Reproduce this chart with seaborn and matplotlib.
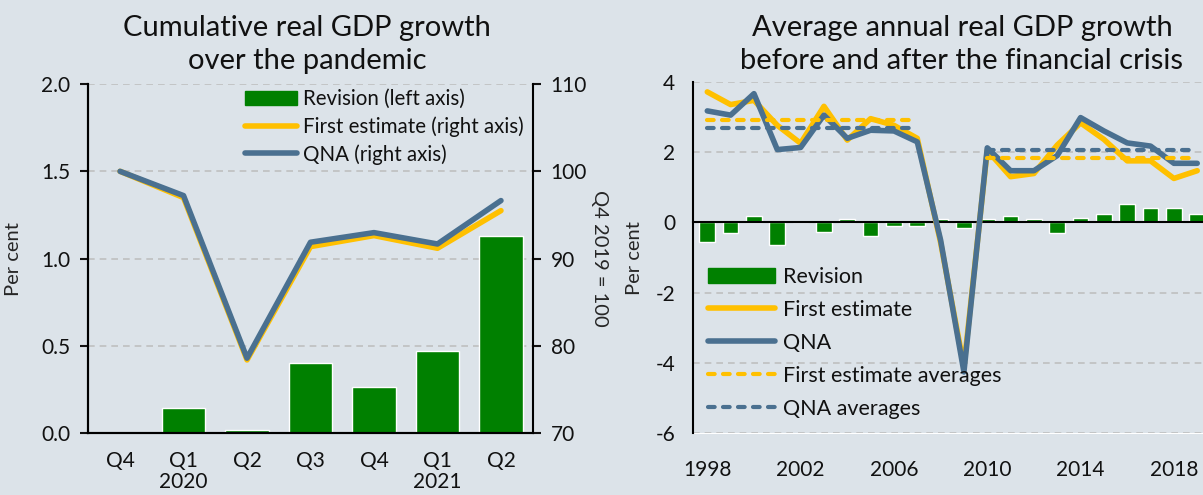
import numpy as np
import pandas as pd
import seaborn as sns
import matplotlib.pyplot as plt
from matplotlib.lines import Line2D
from matplotlib.patches import Patch

# DATA
# left panel: cumulative growth over the pandemic (quarters Q4 2019 .. Q2 2021)
quarter_labels = ['Q4', 'Q1\n2020', 'Q2', 'Q3', 'Q4', 'Q1\n2021', 'Q2']
revision_q = [0.0, 0.143, 0.019, 0.404, 0.267, 0.471, 1.131]
first_q = [100.0, 96.99, 78.4, 91.38, 92.64, 91.19, 95.5]
qna_q = [100.0, 97.22, 78.6, 91.88, 92.98, 91.68, 96.65]

# right panel: annual growth 1998-2019
years = list(range(1998, 2020))
revision_y = [-0.55, -0.31, 0.19, -0.65, 0.0, -0.27, 0.09, -0.38, -0.10, -0.10, 0.09,
              -0.15, 0.09, 0.19, 0.09, -0.31, 0.13, 0.24, 0.52, 0.41, 0.41, 0.24]
first_y = [3.71, 3.35, 3.47, 2.76, 2.25, 3.30, 2.34, 2.95, 2.76, 2.39, -0.57,
           -4.10, 2.05, 1.30, 1.39, 2.20, 2.83, 2.36, 1.75, 1.75, 1.25, 1.47]
qna_y = [3.17, 3.05, 3.66, 2.07, 2.13, 3.05, 2.39, 2.62, 2.60, 2.29, -0.50,
         -4.25, 2.12, 1.47, 1.47, 1.90, 2.98, 2.60, 2.26, 2.17, 1.68, 1.68]
avg_periods = [(1998, 2007), (2010, 2019)]
first_avg = [2.90, 1.84]
qna_avg = [2.67, 2.05]
year_ticks = [1998, 2002, 2006, 2010, 2014, 2018]

# STYLE
bg = '#DCE3E9'
green = '#008000'
yellow = '#FFC000'
blue = '#4A7090'
grid_col = '#BFBFBF'

sns.set_style('white')
plt.rcParams['font.family'] = ['Lato', 'DejaVu Sans']
plt.rcParams['axes.unicode_minus'] = False
plt.rcParams['text.color'] = '#111111'
plt.rcParams['xtick.color'] = '#111111'
plt.rcParams['ytick.color'] = '#111111'

W, H = 1203, 495
fig = plt.figure(figsize=(W / 100, H / 100), dpi=100, facecolor=bg)

def px_box(left, top, right, bottom):
    return [left / W, 1 - bottom / H, (right - left) / W, (bottom - top) / H]

# ---------- left panel ----------
ax = fig.add_axes(px_box(88.3, 84, 532.7, 433.3))
ax.set_facecolor(bg)
df_q = pd.DataFrame({'pos': range(len(quarter_labels)), 'rev': revision_q})
sns.barplot(data=df_q, x='pos', y='rev', color=green, saturation=1, width=0.68,
            ax=ax, zorder=2)
ax.set_ylim(0, 2.0)
ax.set_yticks([0, 0.5, 1.0, 1.5, 2.0])
ax.set_yticklabels(['0.0', '0.5', '1.0', '1.5', '2.0'])
for v in [0.5, 1.0, 1.5, 2.0]:
    ax.axhline(v, color=grid_col, lw=1.2, ls=(0, (4, 3)), zorder=0)

ax2 = ax.twinx()
ax2.patch.set_visible(False)
pos = np.arange(len(quarter_labels))
sns.lineplot(x=pos, y=first_q, color=yellow, lw=4, ax=ax2, solid_capstyle='round')
sns.lineplot(x=pos, y=qna_q, color=blue, lw=4, ax=ax2, solid_capstyle='round')
ax2.set_ylim(70, 110)
ax2.set_yticks([70, 80, 90, 100, 110])
ax.set_xlim(-0.5, len(quarter_labels) - 0.5)
ax2.set_xlim(-0.5, len(quarter_labels) - 0.5)

ax.set_xticks(pos)
ax.set_xticklabels(quarter_labels, fontsize=15, linespacing=1.05)
ax.set_xticks(np.arange(-0.5, len(quarter_labels)), minor=True)
ax.tick_params(axis='x', which='major', length=0, pad=13)
ax.tick_params(axis='x', which='minor', length=6, width=1.5, direction='out')
ax.tick_params(axis='y', length=6, width=1.5, labelsize=15, pad=7)
ax2.tick_params(axis='y', length=6, width=1.5, labelsize=15, pad=7)
ax.set_xlabel('')
ax.set_ylabel('Per cent', fontsize=14.5)
ax.yaxis.set_label_coords(-0.149, 0.5)
ax2.set_ylabel('Q4 2019 = 100', fontsize=14.5, rotation=270, va='center')
ax2.yaxis.set_label_coords(1.151, 0.5)

for a in (ax, ax2):
    a.spines['top'].set_visible(False)
    for s in ('left', 'right', 'bottom'):
        a.spines[s].set_linewidth(1.5)
        a.spines[s].set_color('black')
ax.spines['right'].set_visible(False)

handles_l = [Patch(color=green), Line2D([], [], color=yellow, lw=4, solid_capstyle='round'),
             Line2D([], [], color=blue, lw=4, solid_capstyle='round')]
ax2.legend(handles_l, ['Revision (left axis)', 'First estimate (right axis)', 'QNA (right axis)'],
           loc='upper left', bbox_to_anchor=(245 / W, 1 - 89 / H),
           bbox_transform=fig.transFigure, frameon=False, fontsize=14.8,
           borderpad=0, borderaxespad=0, handlelength=2.55, handletextpad=0.25,
           labelspacing=0.35)

fig.text(307 / W, 1 - 28 / H, 'Cumulative real GDP growth', ha='center', va='center', fontsize=21)
fig.text(307 / W, 1 - 61 / H, 'over the pandemic', ha='center', va='center', fontsize=21)

# ---------- right panel ----------
x0, x1 = 1997.4, 2020.5
px_per_year = 23.33
rx = fig.add_axes(px_box(693.3, 81.7, 693.3 + (x1 - x0) * px_per_year, 433.5))
rx.set_facecolor(bg)
for v in [4, 2, -2, -4, -6]:
    rx.axhline(v, color=grid_col, lw=1.2, ls=(0, (4, 3)), zorder=0)

sns.barplot(x=years, y=revision_y, native_scale=True, color=green, saturation=1,
            width=0.67, ax=rx, zorder=2)
sns.lineplot(x=years, y=first_y, color=yellow, lw=4, ax=rx, zorder=3, solid_capstyle='round')
sns.lineplot(x=years, y=qna_y, color=blue, lw=4, ax=rx, zorder=4, solid_capstyle='round')
for (start, end), fa, qa in zip(avg_periods, first_avg, qna_avg):
    sns.lineplot(x=[start, end], y=[fa, fa], color=yellow, lw=3, ax=rx, zorder=5,
                 dashes=False, linestyle=(0, (1.6, 2.0)), dash_capstyle='round')
    sns.lineplot(x=[start, end], y=[qa, qa], color=blue, lw=3, ax=rx, zorder=5,
                 dashes=False, linestyle=(0, (1.6, 2.0)), dash_capstyle='round')

rx.set_xlim(x0, x1)
rx.set_ylim(-6, 4)
rx.set_yticks([-6, -4, -2, 0, 2, 4])
rx.tick_params(axis='y', length=6, width=1.5, labelsize=15, pad=7)
rx.spines['bottom'].set_position(('data', 0))
rx.spines['top'].set_visible(False)
rx.spines['right'].set_visible(False)
for s in ('left', 'bottom'):
    rx.spines[s].set_linewidth(1.5)
    rx.spines[s].set_color('black')
rx.set_xticks([])
rx.set_xticks(np.arange(1998.5, 2020.5), minor=True)
rx.tick_params(axis='x', which='minor', length=5, width=1.5, direction='out', labelbottom=False)
rx.set_xlabel('')
rx.set_ylabel('Per cent', fontsize=14.5)
rx.yaxis.set_label_coords(-0.093, 0.5)

sec = rx.secondary_xaxis('bottom')
sec.set_xticks(year_ticks)
sec.set_xticklabels([str(y) for y in year_ticks])
sec.tick_params(length=0, labelsize=15, pad=19)
sec.spines['bottom'].set_visible(False)

handles_r = [Patch(color=green),
             Line2D([], [], color=yellow, lw=4, solid_capstyle='round'),
             Line2D([], [], color=blue, lw=4, solid_capstyle='round'),
             Line2D([], [], color=yellow, lw=3, ls=(0, (1.6, 2.0)), dash_capstyle='round'),
             Line2D([], [], color=blue, lw=3, ls=(0, (1.6, 2.0)), dash_capstyle='round')]
rx.legend(handles_r, ['Revision', 'First estimate', 'QNA', 'First estimate averages', 'QNA averages'],
          loc='upper left', bbox_to_anchor=(708 / W, 1 - 267 / H),
          bbox_transform=fig.transFigure, frameon=False, fontsize=15.5,
          borderpad=0, borderaxespad=0, handlelength=3.1, handletextpad=0.4,
          labelspacing=0.6)

fig.text(962 / W, 1 - 28 / H, 'Average annual real GDP growth', ha='center', va='center', fontsize=21)
fig.text(962 / W, 1 - 61 / H, 'before and after the financial crisis', ha='center', va='center', fontsize=21)

fig.savefig('out.png', dpi=100, facecolor=bg)
